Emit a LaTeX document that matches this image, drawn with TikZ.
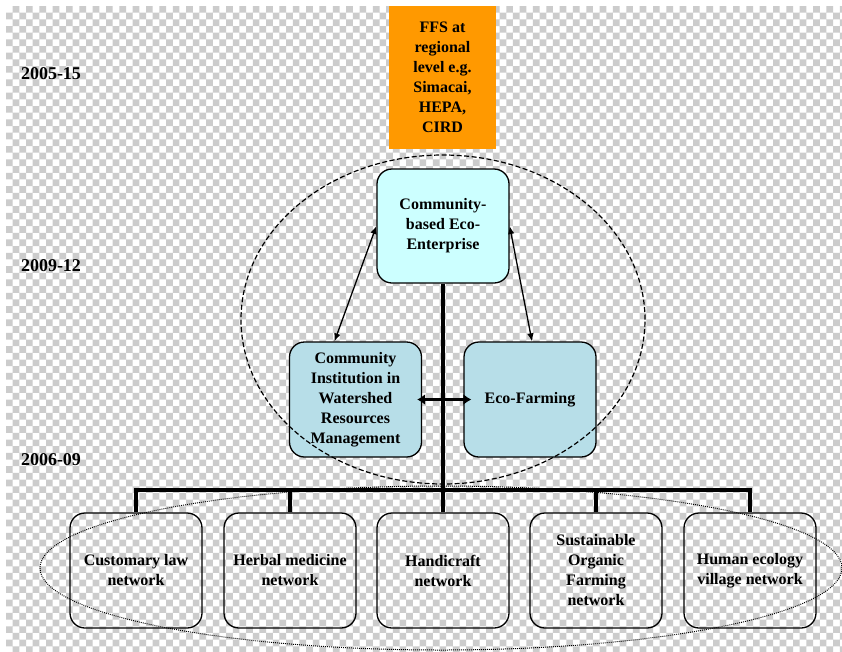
\documentclass[tikz,border=0pt]{standalone}
\usepackage{fontspec}
\setmainfont{Liberation Serif}
\usetikzlibrary{arrows.meta}

\definecolor{ffsorange}{RGB}{255,153,0}
\definecolor{enterprisecyan}{RGB}{204,255,255}
\definecolor{programblue}{RGB}{183,222,232}
\definecolor{checkgray}{RGB}{204,204,204}

\newcommand\diagfont{\fontsize{16}{20}\selectfont\bfseries}
\newcommand\yearfont{\fontsize{18}{22}\selectfont\bfseries}

\begin{document}
\begin{tikzpicture}[x=1pt,y=-1pt,
  roundbox/.style={draw=black, line width=1.3pt, rounded corners=15pt,
    align=center, font=\diagfont, minimum width=132pt, minimum height=115pt,
    inner sep=0pt},
  yearlabel/.style={font=\yearfont, inner sep=0pt},
  trunk/.style={line width=3.4pt},
  thinarrow/.style={line width=1.3pt, {Latex[length=8pt,width=6.5pt]}-{Latex[length=8pt,width=6.5pt]}},
  thickarrow/.style={line width=3pt, {Latex[length=8pt,width=11pt]}-{Latex[length=8pt,width=11pt]}},
  stagering/.style={line width=1.2pt, dash pattern=on 5pt off 2.5pt},
  networkring/.style={line width=1pt, dash pattern=on 0.9pt off 1.1pt}]

\useasboundingbox (0,0) rectangle (842,651);
\fill[white] (0,0) rectangle (842,651);
% transparency-style checkerboard backdrop
\fill[checkgray]
  \foreach \i in {0,...,125} {
    \foreach \j in {0,...,48} {
      ({6+\i*6.67},{6+(2*\j+mod(\i+1,2))*6.67}) rectangle ++(6.67,6.67)
    }
  };

% period labels
\node[yearlabel] (y1) at (51,74) {2005-15};
\node[yearlabel] (y2) at (51,266) {2009-12};
\node[yearlabel] (y3) at (51,460) {2006-09};

% regional FFS box
\node[fill=ffsorange, minimum width=107pt, minimum height=143pt, inner sep=0pt,
      align=center, font=\diagfont] (ffs) at (442.5,77.5)
  {FFS at\\regional\\level e.g.\\Simacai,\\HEPA,\\CIRD};

% middle tier
\node[roundbox, fill=enterprisecyan, minimum height=114pt] (ee) at (443,226)
  {Community-\\based Eco-\\Enterprise};
\node[roundbox, fill=programblue] (ci) at (355.5,399.5)
  {Community\\Institution in\\Watershed\\Resources\\Management};
\node[roundbox, fill=programblue] (ef) at (530,399.5) {Eco-Farming};

% network tier
\node[roundbox] (b1) at (136,570.5) {Customary law\\network};
\node[roundbox] (b2) at (290,570.5) {Herbal medicine\\network};
\node[roundbox] (b3) at (443,570.5) {Handicraft\\network};
\node[roundbox] (b4) at (596,570.5) {Sustainable\\Organic\\Farming\\network};
\node[roundbox] (b5) at (750,570.5) {Human ecology\\village network};

% trunk and bus
\coordinate (hub) at (443,490);
\draw[trunk] (ee.south) -- (hub);
\draw[trunk] (b1.north) -- (b1.north |- hub) -- (b5.north |- hub) -- (b5.north);
\draw[trunk] (b2.north) -- (b2.north |- hub);
\draw[trunk] (b3.north) -- (b3.north |- hub);
\draw[trunk] (b4.north) -- (b4.north |- hub);

% links within the middle tier
\draw[thinarrow] (ee.west) -- ([xshift=-21pt]ci.north);
\draw[thinarrow] (ee.east) -- ([xshift=2pt]ef.north);
\draw[thickarrow] ([xshift=-5pt]ci.east) -- ([xshift=8pt]ef.west);

% grouping rings
\draw[stagering] (443,319.5) ellipse [x radius=202pt, y radius=164.5pt];
\draw[networkring] (441,568) ellipse [x radius=401pt, y radius=82pt];
\end{tikzpicture}
\end{document}
